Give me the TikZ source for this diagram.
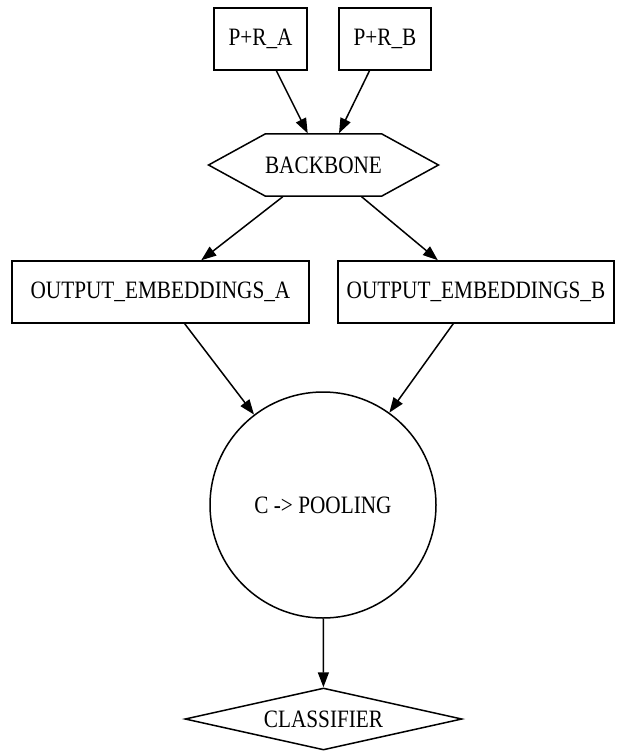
\documentclass[tikz,border=0pt]{standalone}
\usepackage{fontspec}
\setmainfont{Liberation Serif}[FakeStretch=0.85]
\usetikzlibrary{shapes.geometric,shapes.symbols,arrows.meta}
\begin{document}
\begin{tikzpicture}[x=1pt,y=-1pt,
  every node/.style={font=\fontsize{25}{27}\selectfont, inner sep=0pt, line width=1.5pt},
  box/.style={draw, rectangle},
  hexa/.style={draw, signal, signal to=west and east, signal pointer angle=57.5},
  disc/.style={draw, circle},
  dia/.style={draw, diamond, aspect=4.4},
  conn/.style={line width=1.5pt, -{Triangle[length=15pt,width=11pt]}}]
\useasboundingbox (0,0) rectangle (626,754);
\node[box, minimum width=93pt, minimum height=62pt] (pa) at (260.5,39) {P+R\_A};
\node[box, minimum width=92pt, minimum height=62pt] (pb) at (385,39) {P+R\_B};
\node[hexa, minimum width=223pt, minimum height=62pt] (bb) at (323.5,165) {BACKBONE};
\node[box, minimum width=297pt, minimum height=62pt] (oa) at (160.5,292) {OUTPUT\_EMBEDDINGS\_A};
\node[box, minimum width=276pt, minimum height=62pt] (ob) at (476,292) {OUTPUT\_EMBEDDINGS\_B};
\node[disc, minimum size=226pt] (pool) at (323,505) {C -\textgreater{} POOLING};
\node[dia, minimum width=277pt, minimum height=62pt] (cls) at (323.5,719) {CLASSIFIER};
\draw[conn] (pa) -- (bb);
\draw[conn] (pb) -- (bb);
\draw[conn] (bb) -- (oa);
\draw[conn] (bb) -- (ob);
\draw[conn] (oa) -- (pool);
\draw[conn] (ob) -- (pool);
\draw[conn] (pool) -- (cls);
\end{tikzpicture}
\end{document}
